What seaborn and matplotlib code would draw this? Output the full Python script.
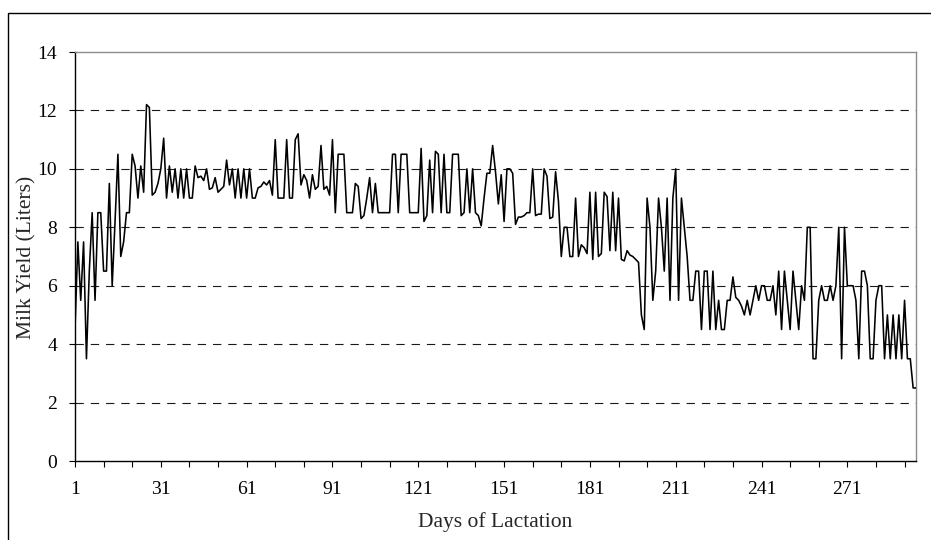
import matplotlib
matplotlib.use("Agg")
import matplotlib.pyplot as plt
import pandas as pd
import seaborn as sns
from matplotlib.patches import Rectangle

# Daily milk yield (litres), day 1 onward
milk_yield = [
    4.5, 7.5, 5.5, 7.5, 3.5, 6.5, 8.5, 5.5, 8.5, 8.5,
    6.5, 6.5, 9.5, 6.0, 8.2, 10.5, 7.0, 7.5, 8.5, 8.5,
    10.5, 10.1, 9.0, 10.1, 9.2, 12.2, 12.1, 9.1, 9.2, 9.5,
    10.0, 11.05, 9.0, 10.1, 9.2, 10.0, 9.0, 10.0, 9.0, 10.0,
    9.0, 9.0, 10.1, 9.7, 9.75, 9.6, 10.0, 9.3, 9.35, 9.7,
    9.2, 9.3, 9.4, 10.3, 9.45, 10.0, 9.0, 10.0, 9.0, 10.0,
    9.0, 10.0, 9.0, 9.0, 9.35, 9.4, 9.55, 9.45, 9.6, 9.1,
    11.0, 9.0, 9.0, 9.0, 11.0, 9.0, 9.0, 11.0, 11.2, 9.45,
    9.8, 9.6, 9.0, 9.8, 9.3, 9.4, 10.8, 9.3, 9.4, 9.1,
    11.0, 8.5, 10.5, 10.5, 10.5, 8.5, 8.5, 8.5, 9.5, 9.4,
    8.3, 8.4, 9.0, 9.7, 8.5, 9.5, 8.5, 8.5, 8.5, 8.5,
    8.5, 10.5, 10.5, 8.5, 10.5, 10.5, 10.5, 8.5, 8.5, 8.5,
    8.5, 10.7, 8.2, 8.4, 10.3, 8.5, 10.6, 10.5, 8.5, 10.5,
    8.5, 8.5, 10.5, 10.5, 10.5, 8.4, 8.5, 10.0, 8.5, 10.0,
    8.5, 8.4, 8.05, 9.0, 9.85, 9.85, 10.8, 9.9, 8.8, 9.8,
    8.2, 10.0, 10.0, 9.85, 8.1, 8.35, 8.35, 8.4, 8.5, 8.5,
    10.0, 8.4, 8.45, 8.45, 10.0, 9.75, 8.3, 8.35, 9.9, 8.9,
    7.0, 8.0, 8.0, 7.0, 7.0, 9.0, 7.0, 7.4, 7.3, 7.1,
    9.2, 6.9, 9.2, 7.0, 7.1, 9.2, 9.05, 7.2, 9.2, 7.2,
    9.0, 6.9, 6.85, 7.2, 7.05, 7.0, 6.9, 6.8, 5.0, 4.5,
    9.0, 8.0, 5.5, 6.5, 9.0, 8.0, 6.5, 9.0, 5.5, 9.0,
    10.0, 5.5, 9.0, 8.0, 7.0, 5.5, 5.5, 6.5, 6.5, 4.5,
    6.5, 6.5, 4.5, 6.5, 4.5, 5.5, 4.5, 4.5, 5.5, 5.5,
    6.3, 5.6, 5.5, 5.3, 5.0, 5.5, 5.0, 5.5, 6.0, 5.5,
    6.0, 6.0, 5.5, 5.5, 6.0, 5.0, 6.5, 4.5, 6.5, 5.5,
    4.5, 6.5, 5.5, 4.5, 6.0, 5.5, 8.0, 8.0, 3.5, 3.5,
    5.5, 6.0, 5.5, 5.5, 6.0, 5.5, 6.0, 8.0, 3.5, 8.0,
    6.0, 6.0, 6.0, 5.5, 3.5, 6.5, 6.5, 6.0, 3.5, 3.5,
    5.5, 6.0, 6.0, 3.5, 5.0, 3.5, 5.0, 3.5, 5.0, 3.5,
    5.5, 3.5, 3.5, 2.5, 2.5,
]
days = list(range(1, len(milk_yield) + 1))

labelled_days = [1, 31, 61, 91, 121, 151, 181, 211, 241, 271]
y_ticks = [0, 2, 4, 6, 8, 10, 12, 14]

sns.set_style("white")
plt.rcParams["font.family"] = ["Liberation Serif", "DejaVu Serif"]
plt.rcParams["lines.scale_dashes"] = False

W, H = 931, 540
fig = plt.figure(figsize=(W / 100, H / 100), dpi=100)
ax = fig.add_axes([75 / W, 1 - 461 / H, (916 - 75) / W, (461 - 52) / H])

df = pd.DataFrame({"Day": days, "Yield": milk_yield})
sns.lineplot(data=df, x="Day", y="Yield", ax=ax, color="black",
             linewidth=1.15, zorder=3)

ax.set_xlim(1, len(days))
ax.set_ylim(0, 14)

# dashed horizontal gridlines
for v in y_ticks[1:-1]:
    ax.axhline(v, color="#1a1a1a", lw=0.8, linestyle=(0, (6.0, 5.0)), zorder=1)

ax.set_yticks(y_ticks)
ax.set_yticklabels([str(v) for v in y_ticks])
tick_days = list(range(1, len(days) + 1, 10))
ax.set_xticks(tick_days)
ax.set_xticklabels([str(d) if d in labelled_days else "" for d in tick_days])

ax.tick_params(axis="both", which="major", bottom=True, left=True,
               direction="out", length=4.3, width=0.8, color="black",
               labelsize=14, labelcolor="black")
ax.tick_params(axis="x", pad=10)
ax.tick_params(axis="y", pad=8.5)

for side in ("left", "bottom"):
    ax.spines[side].set_color("black")
    ax.spines[side].set_linewidth(1.0)
for side in ("top", "right"):
    ax.spines[side].set_visible(True)
    ax.spines[side].set_color("#8c8c8c")
    ax.spines[side].set_linewidth(1.0)

ax.set_xlabel("")
ax.set_ylabel("")
fig.text(495 / W, 1 - 522 / H, "Days of Lactation", ha="center", va="center",
         fontsize=15.5)
fig.text(27 / W, 1 - 257 / H, "Milk Yield (Liters)", ha="center",
         va="center", rotation=90, fontsize=15.5)

# chart-area border
fig.add_artist(Rectangle((8 / W, -0.05), 1.2, 1 - 13 / H + 0.05,
                         transform=fig.transFigure, fill=False,
                         edgecolor="black", linewidth=1.0))

fig.savefig("out.png", dpi=100)
